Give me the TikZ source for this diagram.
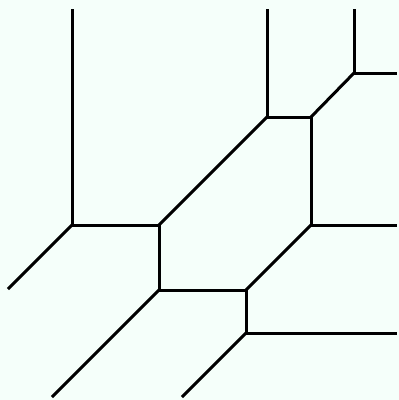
\documentclass[tikz,border=0pt]{standalone}
\usepackage{tikz}
\definecolor{mintbg}{HTML}{F5FFFA}

\begin{document}
\begin{tikzpicture}[
    x=1pt, y=-1pt,
    edge/.style={draw=black, line width=3pt}
]
\fill[mintbg] (0,0) rectangle (399,400);
\useasboundingbox (0,0) rectangle (399,400);
% vertices
\coordinate (va) at (72,225);
\coordinate (vb) at (159,225);
\coordinate (vc) at (267,117);
\coordinate (vd) at (311,117);
\coordinate (ve) at (354,73);
\coordinate (vf) at (311,225);
\coordinate (vg) at (246,290);
\coordinate (vh) at (159,290);
\coordinate (vi) at (246,333);
% ends of the rays
\coordinate (ra) at (72,9);
\coordinate (rb) at (8,289);
\coordinate (rc) at (267,9);
\coordinate (rd) at (354,9);
\coordinate (re) at (397,73);
\coordinate (rf) at (397,225);
\coordinate (rg) at (397,333);
\coordinate (rh) at (52,397);
\coordinate (ri) at (182,397);
% bounded edges
\draw[edge] (va) -- (vb);
\draw[edge] (vb) -- (vc);
\draw[edge] (vc) -- (vd);
\draw[edge] (vd) -- (ve);
\draw[edge] (vd) -- (vf);
\draw[edge] (vf) -- (vg);
\draw[edge] (vb) -- (vh);
\draw[edge] (vh) -- (vg);
\draw[edge] (vg) -- (vi);
% rays
\draw[edge] (va) -- (ra);
\draw[edge] (va) -- (rb);
\draw[edge] (vc) -- (rc);
\draw[edge] (ve) -- (rd);
\draw[edge] (ve) -- (re);
\draw[edge] (vf) -- (rf);
\draw[edge] (vi) -- (rg);
\draw[edge] (vh) -- (rh);
\draw[edge] (vi) -- (ri);
\end{tikzpicture}
\end{document}
